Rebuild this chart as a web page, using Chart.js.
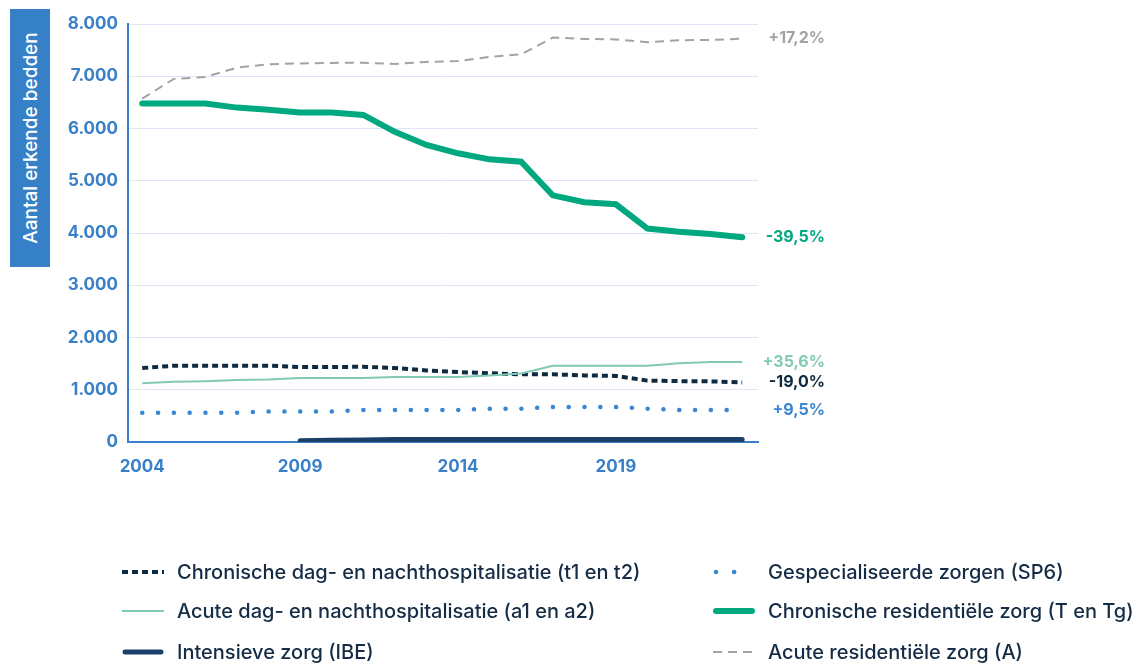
<!DOCTYPE html>
<html>
<head>
<meta charset="utf-8">
<script src="https://cdn.jsdelivr.net/npm/chart.js@4"></script>
<style>
  html, body { margin: 0; padding: 0; background: #fff; }
  body { width: 1138px; height: 664px; position: relative; overflow: hidden; font-family: "Inter", "Noto Sans", sans-serif; }
  #chartWrap { position: absolute; left: 0; top: 0; width: 1138px; height: 490px; }
  #yTitle {
    position: absolute; left: 10px; top: 9px; width: 40px; height: 258px;
    background: #3580c6; color: #fff;
  }
  #yTitle span {
    position: absolute; left: 50%; top: 50%; white-space: nowrap;
    transform: translate(-50%, -50%) rotate(-90deg);
    font-size: 19px; font-weight: 500;
  }
  #legend { position: absolute; left: 0; top: 0; width: 1138px; height: 664px; pointer-events: none; }
  .item { position: absolute; display: flex; align-items: center; font-size: 20px; font-weight: 500; color: #142c45; white-space: nowrap; }
  .item svg { margin-right: 13px; }
</style>
</head>
<body>
<div id="chartWrap"><canvas id="c" width="1138" height="490"></canvas></div>
<div id="yTitle"><span>Aantal erkende bedden</span></div>
<div id="legend"></div>
<script>
// -------------------------------
// DATA
// -------------------------------
const years = [2004, 2005, 2006, 2007, 2008, 2009, 2010, 2011, 2012, 2013,
               2014, 2015, 2016, 2017, 2018, 2019, 2020, 2021, 2022, 2023];
const yearTicks = [2004, 2009, 2014, 2019];
const yTicks = [0, 1000, 2000, 3000, 4000, 5000, 6000, 7000, 8000];

const acuteResidential = [6570, 6950, 6985, 7165, 7230, 7245, 7255, 7260, 7235, 7275,
                          7290, 7370, 7420, 7740, 7715, 7705, 7650, 7690, 7695, 7720];
const chronicResidential = [6480, 6480, 6480, 6400, 6360, 6305, 6305, 6260, 5935, 5685,
                            5525, 5410, 5365, 4720, 4590, 4550, 4085, 4025, 3980, 3920];
const acuteDayNight = [1125, 1155, 1165, 1185, 1195, 1225, 1225, 1225, 1245, 1245,
                       1245, 1275, 1310, 1460, 1460, 1460, 1460, 1505, 1530, 1530];
const chronicDayNight = [1415, 1460, 1460, 1460, 1460, 1435, 1435, 1440, 1415, 1370,
                         1340, 1315, 1295, 1295, 1275, 1265, 1175, 1165, 1160, 1140];
const specialised = [560, 560, 560, 560, 585, 585, 585, 612, 612, 612,
                     612, 638, 638, 670, 670, 670, 638, 612, 612, 612];
const intensive = [null, null, null, null, null, 25, 35, 40, 48, 48,
                   48, 48, 48, 48, 48, 48, 48, 48, 48, 48];

const endLabels = ["+17,2%", "-39,5%", "+35,6%", "-19,0%", "+9,5%", ""];

const legendOrder = [
  "Chronische dag- en nachthospitalisatie (t1 en t2)",
  "Acute dag- en nachthospitalisatie (a1 en a2)",
  "Intensieve zorg (IBE)",
  "Gespecialiseerde zorgen (SP6)",
  "Chronische residentiële zorg (T en Tg)",
  "Acute residentiële zorg (A)"
];

const BLUE = "#3a80c8";
const pts = arr => arr.map((v, i) => ({ x: years[i], y: v }));
const fmt = v => String(v).replace(/\B(?=(\d{3})+(?!\d))/g, ".");

const datasets = [
  { label: "Acute residentiële zorg (A)", data: pts(acuteResidential),
    borderColor: "#a3a3a3", borderWidth: 2, borderDash: [9, 6], labelColor: "#a3a3a3" },
  { label: "Chronische residentiële zorg (T en Tg)", data: pts(chronicResidential),
    borderColor: "#00a880", borderWidth: 6, borderCapStyle: "round", labelColor: "#00a880" },
  { label: "Acute dag- en nachthospitalisatie (a1 en a2)", data: pts(acuteDayNight),
    borderColor: "#80cbb2", borderWidth: 2, labelColor: "#80cbb2" },
  { label: "Chronische dag- en nachthospitalisatie (t1 en t2)", data: pts(chronicDayNight),
    borderColor: "#0e2a40", borderWidth: 4, borderDash: [6, 4], labelColor: "#0e2a40" },
  { label: "Gespecialiseerde zorgen (SP6)", data: pts(specialised),
    borderColor: "#3a86d0", borderWidth: 4.5, borderDash: [0.1, 15.7], borderCapStyle: "round", labelColor: "#3a86d0" },
  { label: "Intensieve zorg (IBE)", data: pts(intensive),
    borderColor: "#1b3f68", borderWidth: 5, borderCapStyle: "round", labelColor: "#1b3f68" }
];

// -------------------------------
// END LABELS PLUGIN
// -------------------------------
const endLabelPlugin = {
  id: "endLabels",
  afterDatasetsDraw(chart) {
    const ctx = chart.ctx;
    ctx.save();
    ctx.font = "700 16px Inter, 'Noto Sans', sans-serif";
    ctx.textAlign = "right";
    ctx.textBaseline = "middle";
    chart.data.datasets.forEach((ds, i) => {
      const txt = endLabels[i];
      if (!txt) return;
      const meta = chart.getDatasetMeta(i);
      const last = meta.data[meta.data.length - 1];
      ctx.fillStyle = ds.labelColor;
      ctx.fillText(txt, 825, last.y);
    });
    ctx.restore();
  }
};

new Chart(document.getElementById("c").getContext("2d"), {
  type: "line",
  data: { datasets },
  options: {
    responsive: false,
    animation: false,
    layout: { padding: { top: 24, right: 380, left: 0, bottom: 8 } },
    elements: { point: { radius: 0 }, line: { tension: 0, fill: false } },
    plugins: { legend: { display: false }, tooltip: { enabled: false } },
    scales: {
      x: {
        type: "linear",
        min: 2003.55,
        max: 2023.5,
        afterBuildTicks: s => { s.ticks = yearTicks.map(v => ({ value: v })); },
        afterFit: s => { s.height = 40; },
        grid: { display: false, drawTicks: false },
        border: { display: true, color: BLUE, width: 2 },
        ticks: {
          padding: 15,
          color: BLUE,
          font: { family: "Inter", size: 17, weight: "700" },
          callback: v => String(v)
        }
      },
      y: {
        min: 0,
        max: 8000,
        afterBuildTicks: s => { s.ticks = yTicks.map(v => ({ value: v })); },
        afterFit: s => { s.width = 128; },
        grid: { color: "#dfe5f4", lineWidth: 1, drawTicks: false },
        border: { display: true, color: BLUE, width: 2 },
        ticks: {
          padding: 10,
          color: BLUE,
          font: { family: "Inter", size: 17, weight: "700" },
          callback: v => fmt(v)
        }
      }
    }
  },
  plugins: [endLabelPlugin]
});

// -------------------------------
// HTML LEGEND (two columns)
// -------------------------------
const legendEl = document.getElementById("legend");
const rowsY = [572, 611, 652];
const colX = [122, 713];
legendOrder.forEach((name, idx) => {
  const ds = datasets.find(d => d.label === name);
  const col = Math.floor(idx / 3), row = idx % 3;
  const isDots = ds.borderDash && ds.borderDash[0] < 1;
  const dash = isDots ? "0.1 18" : (ds.borderDash ? ds.borderDash.join(" ") : "");
  const cap = ds.borderCapStyle === "round" ? "round" : "butt";
  const lw = ds.borderWidth;
  const div = document.createElement("div");
  div.className = "item";
  div.style.left = colX[col] + "px";
  div.style.top = (rowsY[row] - 14) + "px";
  div.style.height = "28px";
  div.innerHTML =
    `<svg width="42" height="12"><line x1="${cap === "round" ? 3 : 0}" y1="6" x2="${cap === "round" ? 39 : 42}" y2="6"
      stroke="${ds.borderColor}" stroke-width="${lw}" stroke-linecap="${cap}"
      ${dash ? `stroke-dasharray="${dash}"` : ""}/></svg><span>${name}</span>`;
  legendEl.appendChild(div);
});
</script>
</body>
</html>
